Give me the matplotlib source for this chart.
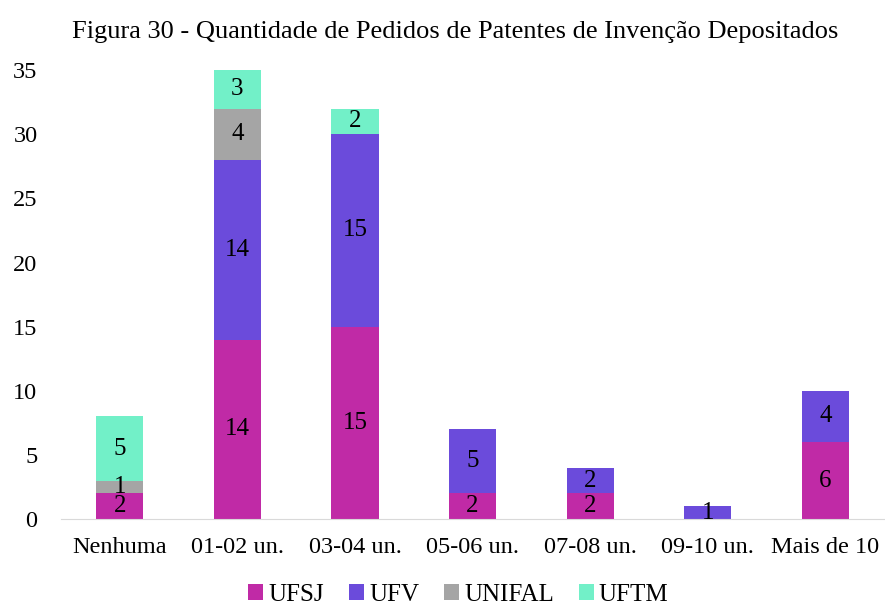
import matplotlib.pyplot as plt
import numpy as np

plt.rcParams['font.family'] = ['Liberation Serif', 'DejaVu Serif']

categories = ["Nenhuma", "01-02 un.", "03-04 un.", "05-06 un.", "07-08 un.", "09-10 un.", "Mais de 10"]
ufsj = [2, 14, 15, 2, 2, 0, 6]
ufv = [0, 14, 15, 5, 2, 1, 4]
unifal = [1, 4, 0, 0, 0, 0, 0]
uftm = [5, 3, 2, 0, 0, 0, 0]

series = [("UFSJ", ufsj, "#C02AA6"), ("UFV", ufv, "#6B4BDB"),
          ("UNIFAL", unifal, "#A5A5A5"), ("UFTM", uftm, "#72F0C8")]

fig = plt.figure(figsize=(8.85, 6.10), dpi=100)
ax = fig.add_axes([0.069, 0.149, 0.93, 0.736])

x = np.arange(len(categories))
bottom = np.zeros(len(categories))
for name, vals, color in series:
    vals = np.array(vals, dtype=float)
    ax.bar(x, vals, 0.4, bottom=bottom, color=color, label=name)
    for xi, v, b in zip(x, vals, bottom):
        if v > 0:
            ax.text(xi, b + v / 2, f"{int(v)}", ha="center", va="center", fontsize=18)
    bottom += vals

ax.set_xlim(-0.5, 6.5)
ax.set_ylim(0, 35)
ax.set_yticks(range(0, 36, 5))
ax.set_xticks(x)
ax.set_xticklabels(categories)
ax.tick_params(axis="both", length=0, labelsize=17.5)
ax.tick_params(axis="x", pad=13)
ax.tick_params(axis="y", pad=17)
for s in ["top", "right", "left"]:
    ax.spines[s].set_visible(False)
ax.spines["bottom"].set_color("#D9D9D9")

fig.suptitle("Figura 30 - Quantidade de Pedidos de Patentes de Invenção Depositados",
             fontsize=19, x=0.514, y=0.965)
fig.legend(loc="lower center", ncol=4, frameon=False, fontsize=18,
           bbox_to_anchor=(0.518, -0.03), handlelength=0.6, handleheight=0.6,
           handletextpad=0.2, columnspacing=1.0)

fig.savefig("out.png", dpi=100)
